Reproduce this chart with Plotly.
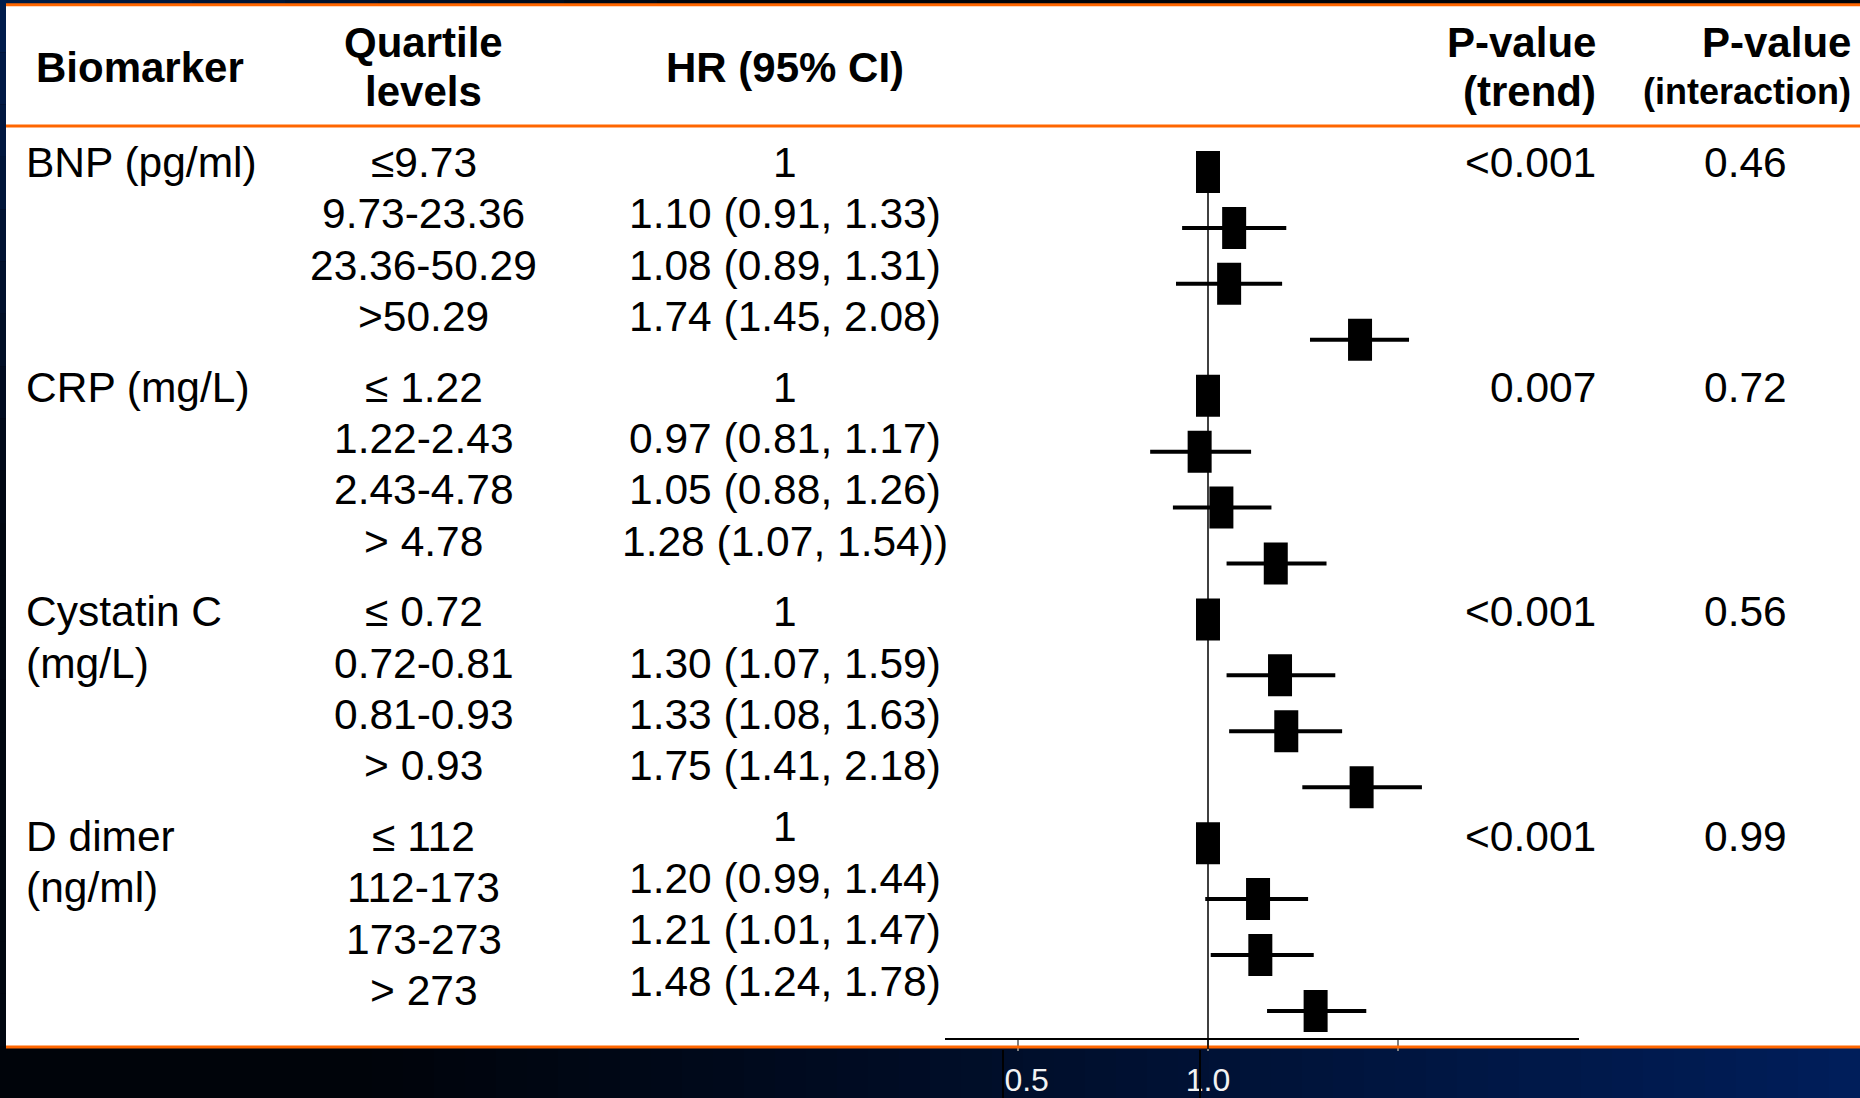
import math
import plotly.graph_objects as go

# ---------------- data ----------------
biomarker_lines = [["BNP (pg/ml)"], ["CRP (mg/L)"], ["Cystatin C", "(mg/L)"], ["D dimer", "(ng/ml)"]]
quartile_levels = [
    ["≤9.73", "9.73-23.36", "23.36-50.29", ">50.29"],
    ["≤ 1.22", "1.22-2.43", "2.43-4.78", "> 4.78"],
    ["≤ 0.72", "0.72-0.81", "0.81-0.93", "> 0.93"],
    ["≤ 112", "112-173", "173-273", "> 273"],
]
hr_values = [
    [1.00, 1.10, 1.08, 1.74],
    [1.00, 0.97, 1.05, 1.28],
    [1.00, 1.30, 1.33, 1.75],
    [1.00, 1.20, 1.21, 1.48],
]
ci_low = [
    [None, 0.91, 0.89, 1.45],
    [None, 0.81, 0.88, 1.07],
    [None, 1.07, 1.08, 1.41],
    [None, 0.99, 1.01, 1.24],
]
ci_high = [
    [None, 1.33, 1.31, 2.08],
    [None, 1.17, 1.26, 1.54],
    [None, 1.59, 1.63, 2.18],
    [None, 1.44, 1.47, 1.78],
]
hr_labels = [
    ["1", "1.10 (0.91, 1.33)", "1.08 (0.89, 1.31)", "1.74 (1.45, 2.08)"],
    ["1", "0.97 (0.81, 1.17)", "1.05 (0.88, 1.26)", "1.28 (1.07, 1.54))"],
    ["1", "1.30 (1.07, 1.59)", "1.33 (1.08, 1.63)", "1.75 (1.41, 2.18)"],
    ["1", "1.20 (0.99, 1.44)", "1.21 (1.01, 1.47)", "1.48 (1.24, 1.78)"],
]
p_trend = ["<0.001", "0.007", "<0.001", "<0.001"]
p_interaction = ["0.46", "0.72", "0.56", "0.99"]
tick_values = [0.5, 1.0, 2.0, 3.86]
tick_labels = ["\u00a0\u00a00.5", "1.0", "", ""]

# ---------------- layout constants (pixels) ----------------
W, H = 1860, 1098
FONT = "Liberation Sans, Arial, sans-serif"
ORANGE = "#FF6600"
PANEL_L, PANEL_T, PANEL_B = 6, 6, 1046
AXIS_Y = 1038
AX_LEFT, AX_RIGHT = 944.6, 1578.6
X_ONE = 1208.0
PX_PER_LN = 274.5
ROW0, ROW_STEP = 172.0, 55.93
TXT0, TXT_ROW, TXT_GROUP = 162.5, 51.4, 224.6
FS = 42.5
FS_HEAD = 42

def px_x(p):
    return p / W

def px_y(p):
    return 1 - p / H

fig = go.Figure()

# ---------- forest marks ----------
ci_x, ci_y, pt_x, pt_y = [], [], [], []
for g in range(4):
    for r in range(4):
        idx = g * 4 + r
        pt_x.append(hr_values[g][r])
        pt_y.append(idx)
        if ci_low[g][r] is not None:
            ci_x += [ci_low[g][r], ci_high[g][r], None]
            ci_y += [idx, idx, None]

fig.add_trace(go.Scatter(x=ci_x, y=ci_y, mode="lines",
                         line=dict(color="black", width=4), hoverinfo="skip", showlegend=False))
fig.add_trace(go.Scatter(x=pt_x, y=pt_y, mode="markers",
                         marker=dict(symbol="line-ns", size=30, color="black",
                                     line=dict(color="black", width=24)),
                         showlegend=False))

# ---------- axes ----------
x_lo = (AX_LEFT - X_ONE) / PX_PER_LN / math.log(10)
x_hi = (AX_RIGHT - X_ONE) / PX_PER_LN / math.log(10)
y_top = -ROW0 / ROW_STEP
y_bot = (AXIS_Y - ROW0) / ROW_STEP

fig.update_xaxes(type="log", domain=[AX_LEFT / W, AX_RIGHT / W], range=[x_lo, x_hi],
                 automargin=False,
                 showline=True, linecolor="black", linewidth=1.5, showgrid=False, zeroline=False,
                 ticks="outside", ticklen=11, tickwidth=1.5, tickcolor="#808080",
                 tickvals=tick_values, ticktext=tick_labels,
                 tickfont=dict(family=FONT, size=32, color="#f2f2f2"),
                 ticklabelstandoff=2)
fig.update_yaxes(domain=[(H - AXIS_Y) / H, 1], range=[y_bot, y_top], visible=False, automargin=False)

# ---------- background shapes ----------
shapes = []
# bottom band gradient
n = 60
for i in range(n):
    t = i / (n - 1)
    f = max(0.0, (t - 0.18) / 0.82) ** 1.1
    col = "rgb(%d,%d,%d)" % (0, int(4 + 26 * f), int(10 + 80 * f))
    shapes.append(dict(type="rect", xref="paper", yref="paper", layer="below",
                       x0=i / n, x1=(i + 1) / n + 0.001, y0=0, y1=px_y(PANEL_B),
                       fillcolor=col, line=dict(width=0)))
# left strip gradient (navy top -> black)
m = 20
for i in range(m):
    t = i / (m - 1)
    f = max(0.0, 1 - t / 0.5)
    col = "rgb(%d,%d,%d)" % (0, int(6 + 22 * f), int(16 + 60 * f))
    shapes.append(dict(type="rect", xref="paper", yref="paper", layer="below",
                       x0=0, x1=px_x(PANEL_L), y0=1 - (i + 1) / m * (PANEL_B / H), y1=1 - i / m * (PANEL_B / H),
                       fillcolor=col, line=dict(width=0)))
# top strip gradient (navy left -> black right)
for i in range(m):
    t = i / (m - 1)
    f = max(0.0, 1 - t / 0.4)
    col = "rgb(%d,%d,%d)" % (0, int(4 + 24 * f), int(10 + 60 * f))
    shapes.append(dict(type="rect", xref="paper", yref="paper", layer="below",
                       x0=px_x(PANEL_L) + i / m, x1=px_x(PANEL_L) + (i + 1) / m, y0=px_y(4), y1=1,
                       fillcolor=col, line=dict(width=0)))
# white panel
shapes.append(dict(type="rect", xref="paper", yref="paper", layer="below",
                   x0=px_x(PANEL_L), x1=1, y0=px_y(PANEL_B), y1=px_y(PANEL_T),
                   fillcolor="white", line=dict(width=0)))
# orange rules
for yy, wd in [(4.8, 3), (126, 3), (1047, 3)]:
    shapes.append(dict(type="line", xref="paper", yref="paper", layer="above",
                       x0=px_x(PANEL_L), x1=1, y0=px_y(yy), y1=px_y(yy),
                       line=dict(color=ORANGE, width=wd)))
# reference line at HR = 1
shapes.append(dict(type="line", xref="x", yref="paper", x0=1, x1=1,
                   y0=px_y(154), y1=px_y(1049), line=dict(color="black", width=1.5)))
# dark artefact lines in the bottom band
for xx in [1003, 1200]:
    shapes.append(dict(type="line", xref="paper", yref="paper", x0=px_x(xx), x1=px_x(xx),
                       y0=px_y(1050), y1=0, line=dict(color="black", width=2)))

# ---------- text ----------
ann = []

def text(s, x, y, anchor="center", size=FS, bold=False):
    ann.append(dict(text=("<b>%s</b>" % s) if bold else s, x=px_x(x), y=px_y(y),
                    xref="paper", yref="paper", xanchor=anchor, yanchor="middle",
                    showarrow=False, font=dict(family=FONT, size=size, color="black")))

# headers
text("Biomarker", 140, 67.6, size=FS_HEAD, bold=True)
text("Quartile", 423.5, 42.7, size=FS_HEAD, bold=True)
text("levels", 423.5, 91.3, size=FS_HEAD, bold=True)
text("HR (95% CI)", 785, 67.6, size=FS_HEAD, bold=True)
text("P-value", 1598, 42.7, "right", size=FS_HEAD, bold=True)
text("(trend)", 1598, 91.3, "right", size=FS_HEAD, bold=True)
text("P-value", 1853, 42.7, "right", size=FS_HEAD, bold=True)
text("(interaction)", 1853, 91.3, "right", size=36, bold=True)

for g in range(4):
    base = TXT0 + g * TXT_GROUP
    for k, line in enumerate(biomarker_lines[g]):
        text(line, 23.7, base + k * TXT_ROW, "left")
    hr_off = -9.5 if g == 3 else 0
    for r in range(4):
        text(quartile_levels[g][r], 423.5, base + r * TXT_ROW)
        text(hr_labels[g][r], 785, base + r * TXT_ROW + hr_off)
    text(p_trend[g], 1598, base, "right")
    text(p_interaction[g], 1745, base)

fig.update_layout(width=W, height=H, margin=dict(l=0, r=0, t=0, b=0, autoexpand=False),
                  paper_bgcolor="#000510", plot_bgcolor="rgba(0,0,0,0)",
                  shapes=shapes, annotations=ann, showlegend=False)

fig.write_html("out.html", config={"displayModeBar": False},
               post_script="document.body.style.margin='0';document.body.style.overflow='hidden';")
